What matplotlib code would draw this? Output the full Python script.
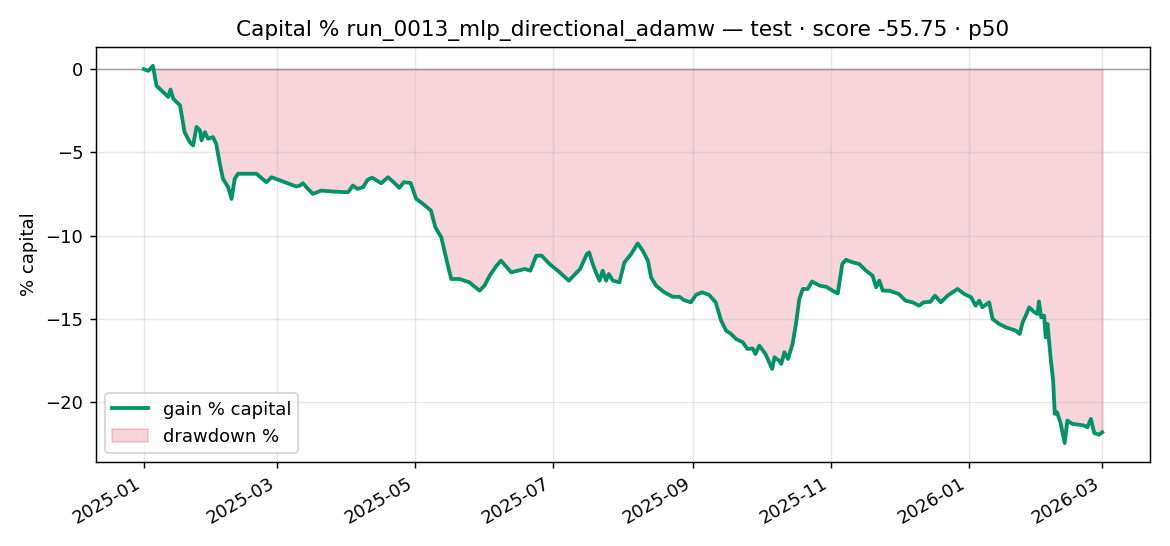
import numpy as np
import pandas as pd
import matplotlib
matplotlib.use("Agg")
import matplotlib.pyplot as plt
import matplotlib.dates as mdates

# días desde 2025-01-01 y ganancia % capital
days = [0, 2, 4, 5.6, 8.5, 10.8, 11.8, 13, 14.4, 16, 18, 20.3, 21.8, 23.3, 24.8, 25.5,
        27, 28.4, 30.6, 32, 33.6, 35, 37.3, 38.8, 40.2, 41.7, 49.8, 54.2, 56.5, 61.6,
        67.5, 69, 70.4, 72.6, 74.8, 78.5, 83.7, 90.3, 92.5, 94.5, 97, 99, 101, 105,
        108, 111, 113, 115, 118, 120.5, 123.5, 127, 129, 131.6, 134, 136, 139.7, 144,
        148.5, 150.7, 153, 156, 158, 160, 162.5, 165.5, 168.5, 171, 173.6, 176, 179.5,
        184, 188, 193, 196, 197, 198.6, 200, 201.6, 203, 204.5, 205.7, 207.5, 210.4,
        212.6, 215.6, 218.5, 220.7, 223, 224.4, 226.6, 230.3, 234, 237, 239, 242,
        244.3, 247, 250, 253, 255.4, 257.6, 259.8, 262, 265, 267, 269.4, 270.6, 272.3,
        275, 278, 279, 281, 282, 283.4, 285, 287, 288.5, 290, 291.5, 293.7, 295.6,
        299, 302, 304.7, 307, 309, 310.6, 313.6, 316.5, 319.5, 322.4, 324, 325.4,
        326.9, 329.8, 334, 337, 340, 343, 345, 348, 350, 352.6, 355.6, 360, 363, 366,
        368, 369.6, 371, 374, 375.5, 378.4, 381.4, 383.6, 385.8, 387.5, 388.8, 390.2,
        391.7, 394, 395.4, 396, 397, 398.3, 399, 399.8, 401.3, 402.3, 403, 404, 405.5,
        407.4, 408.6, 410.8, 413.8, 416, 417.5, 419, 420.5, 422.6, 424]
gain = [0.0, -0.1, 0.2, -1.0, -1.37, -1.67, -1.22, -1.77, -1.97, -2.17, -3.78, -4.38,
        -4.58, -3.47, -3.67, -4.28, -3.78, -4.18, -4.08, -4.48, -5.68, -6.58, -7.09,
        -7.79, -6.58, -6.28, -6.28, -6.79, -6.49, -6.75, -7.05, -6.99, -6.85, -7.19,
        -7.49, -7.29, -7.35, -7.39, -6.99, -7.19, -7.09, -6.64, -6.52, -6.85, -6.49,
        -6.85, -7.13, -6.79, -6.83, -7.79, -8.09, -8.49, -9.5, -10.1, -11.5, -12.6,
        -12.6, -12.8, -13.3, -13.0, -12.4, -11.8, -11.5, -11.8, -12.2, -12.1, -12.0,
        -12.1, -11.2, -11.2, -11.7, -12.2, -12.7, -12.0, -11.1, -11.0, -11.7, -12.2,
        -12.7, -12.1, -12.7, -12.3, -12.7, -12.8, -11.6, -11.1, -10.46, -10.9, -11.5,
        -12.5, -13.0, -13.4, -13.67, -13.67, -13.87, -14.0, -13.55, -13.4, -13.55,
        -14.0, -15.1, -15.7, -15.9, -16.2, -16.4, -16.8, -16.77, -17.1, -16.6, -17.1,
        -18.0, -17.3, -17.5, -17.7, -17.0, -17.4, -16.5, -15.3, -13.8, -13.2, -13.2,
        -12.75, -13.0, -13.07, -13.3, -13.47, -11.7, -11.45, -11.6, -11.7, -12.1,
        -12.4, -13.1, -12.7, -13.3, -13.3, -13.5, -13.9, -14.0, -14.2, -14.0, -13.97,
        -13.6, -14.0, -13.6, -13.2, -13.5, -13.7, -14.2, -13.9, -14.3, -14.0, -15.0,
        -15.3, -15.5, -15.6, -15.7, -15.9, -15.2, -14.8, -14.3, -14.6, -14.7, -13.95,
        -14.9, -14.8, -16.1, -15.3, -17.5, -18.7, -20.7, -20.6, -21.2, -22.45, -21.1,
        -21.3, -21.35, -21.4, -21.5, -21.0, -21.85, -21.95, -21.8]

title = "Capital % run_0013_mlp_directional_adamw — test · score -55.75 · p50"

dates = pd.Timestamp("2025-01-01") + pd.to_timedelta(days, unit="D")
gain = np.array(gain)

fig, ax = plt.subplots(figsize=(9, 4.2), dpi=130)

ax.plot(dates, gain, color="#00936a", lw=2.1, label="gain % capital", zorder=3)
ax.fill_between(dates, gain, 0, color="crimson", alpha=0.18, label="drawdown %")
ax.axhline(0, color="gray", lw=0.8, alpha=0.7)

ax.set_title(title)
ax.set_ylabel("% capital")
ax.grid(True, alpha=0.3)
ax.xaxis.set_major_locator(mdates.MonthLocator(bymonth=[1, 3, 5, 7, 9, 11]))
ax.xaxis.set_major_formatter(mdates.DateFormatter("%Y-%m"))
ax.legend(loc="lower left")
fig.autofmt_xdate()
fig.subplots_adjust(left=0.082, right=0.983, top=0.914, bottom=0.154)

fig.savefig("out.png", dpi=130)
